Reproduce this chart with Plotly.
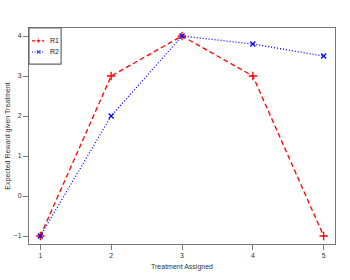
import plotly.graph_objects as go

treatments = [1, 2, 3, 4, 5]
r1 = [-1, 3, 4, 3, -1]
r2 = [-1, 2, 4, 3.8, 3.5]
series_names = ["R1", "R2"]
colors = ["red", "blue"]

fig = go.Figure()
fig.add_trace(go.Scatter(x=treatments, y=r1, name="R1", mode="lines+markers",
                         line=dict(color="red", dash="5px,3px", width=1.3),
                         marker=dict(symbol="cross-thin", size=6, color="red",
                                     line=dict(color="red", width=1.3))))
fig.add_trace(go.Scatter(x=treatments, y=r2, name="R2", mode="lines+markers",
                         line=dict(color="blue", dash="1px,2px", width=1.3),
                         marker=dict(symbol="x-thin", size=5, color="blue",
                                     line=dict(color="blue", width=1.3))))

axis_common = dict(showline=True, mirror=True, linecolor="#777", linewidth=1,
                   ticks="outside", ticklen=5, tickcolor="#777", showgrid=False,
                   zeroline=False, automargin=False, tickfont=dict(size=7, color="#333"))

# compact legend box (top-left, like the reference)
shapes = [dict(type="rect", xref="paper", yref="paper", x0=0, x1=0.105, y0=0.833, y1=1,
               line=dict(color="#666", width=1.2), fillcolor="white", layer="above")]
annotations = []
legend_rows = [0.94, 0.889]
dashes = ["3px,2px", "1px,1.5px"]
symbols = ["+", "×"]
for name, col, yy, dsh, sym in zip(series_names, colors, legend_rows, dashes, symbols):
    shapes.append(dict(type="line", xref="paper", yref="paper", x0=0.01, x1=0.05, y0=yy, y1=yy,
                       line=dict(color=col, width=1.2, dash=dsh), layer="above"))
    annotations.append(dict(xref="paper", yref="paper", x=0.03, y=yy, text=sym, showarrow=False,
                            font=dict(size=9, color=col), xanchor="center", yanchor="middle"))
    annotations.append(dict(xref="paper", yref="paper", x=0.062, y=yy, text=name, showarrow=False,
                            font=dict(size=7, color="#222"), xanchor="left", yanchor="middle"))

fig.update_layout(
    width=350, height=280,
    margin=dict(l=29, r=15, t=28, b=36),
    paper_bgcolor="white", plot_bgcolor="white",
    font=dict(family="Liberation Sans, Arial, sans-serif", size=7, color="#333"),
    showlegend=False,
    xaxis=dict(range=[0.84, 5.16], tickvals=treatments,
               title=dict(text="Treatment Assigned", font=dict(size=7), standoff=5),
               **axis_common),
    yaxis=dict(range=[-1.2, 4.2], tickvals=[-1, 0, 1, 2, 3, 4],
               title=dict(text="Expected Reward given Treatment", font=dict(size=7), standoff=2),
               **axis_common),
    shapes=shapes, annotations=annotations,
)
fig.write_html("out.html", config={"displayModeBar": False},
               post_script="document.body.style.margin='0';document.body.style.overflow='hidden';")
